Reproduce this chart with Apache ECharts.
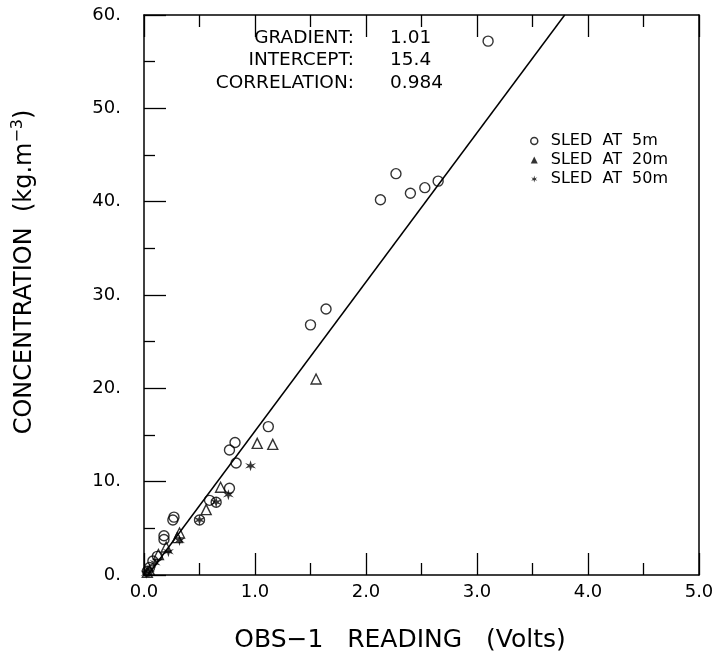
<!DOCTYPE html>
<html><head><meta charset="utf-8">
<script src="https://cdn.jsdelivr.net/npm/echarts@6/dist/echarts.min.js"></script>
<style>html,body{margin:0;padding:0;background:#fff}#c{width:718px;height:660px}</style>
</head><body><div id="c"></div>
<script>
// ---- data ----
const xTicks = [0, 1, 2, 3, 4, 5];
const yTicks = [0, 10, 20, 30, 40, 50, 60];
const sled5x = [3.10, 2.65, 2.53, 2.40, 2.27, 2.13, 1.64, 1.50, 1.12, 0.82, 0.77, 0.83, 0.77, 0.65, 0.59, 0.50, 0.27, 0.26, 0.18, 0.18, 0.12, 0.08, 0.05, 0.03];
const sled5y = [57.2, 42.2, 41.5, 40.9, 43.0, 40.2, 28.5, 26.8, 15.9, 14.2, 13.4, 12.0, 9.3, 7.8, 8.0, 5.9, 6.2, 5.9, 4.2, 3.8, 2.0, 1.5, 0.8, 0.4];
const sled20x = [1.55, 1.02, 1.16, 0.69, 0.56, 0.32, 0.30, 0.20, 0.13, 0.05, 0.03];
const sled20y = [21.0, 14.1, 14.0, 9.4, 7.0, 4.5, 4.0, 3.0, 2.2, 0.5, 0.3];
const sled50x = [0.96, 0.76, 0.65, 0.50, 0.32, 0.22, 0.10, 0.05, 0.02];
const sled50y = [11.7, 8.6, 7.8, 5.9, 3.7, 2.5, 1.3, 0.6, 0.2];
const fitX = [0.035, 3.79];
const fitY = [0.0, 60.0];
const statLabels = ['GRADIENT:', 'INTERCEPT:', 'CORRELATION:'];
const statValues = ['1.01', '15.4', '0.984'];
const seriesNames = ['SLED  AT  5m', 'SLED  AT  20m', 'SLED  AT  50m'];
const xTitle = 'OBS\u22121   READING   (Volts)';
const yTitle = 'CONCENTRATION  (kg.m{sup|\u22123})';

const zip = (a, b) => a.map((v, i) => [v, b[i]]);
const FONT = 'DejaVu Sans';
const star = 'path://M10 0 L12 7.5 L18.66 5 L14 10 L18.66 15 L12 12.5 L10 20 L8 12.5 L1.34 15 L6 10 L1.34 5 L8 7.5 Z';

const chart = echarts.init(document.getElementById('c'), null, {renderer: 'canvas'});
const lineSt = {color: '#000', width: 1.5};
const tickSt = {color: '#000', width: 1.3};
function axisBase(extra) {
  return Object.assign({
    type: 'value', min: 0,
    axisLine: {show: true, onZero: false, lineStyle: lineSt},
    splitLine: {show: false}
  }, extra);
}
chart.setOption({
  animation: false,
  backgroundColor: '#fff',
  grid: {left: 144, right: 19, top: 15, bottom: 85, containLabel: false},
  xAxis: [
    axisBase({
      max: 5, interval: 1, position: 'bottom',
      axisTick: {show: true, inside: true, length: 22, lineStyle: tickSt},
      minorTick: {show: true, splitNumber: 2, length: 12, lineStyle: tickSt},
      axisLabel: {color: '#000', fontFamily: FONT, fontSize: 18, margin: 8, formatter: v => v.toFixed(1)}
    }),
    axisBase({
      max: 5, interval: 1, position: 'top',
      axisTick: {show: true, inside: true, length: 22, lineStyle: tickSt},
      minorTick: {show: true, splitNumber: 2, length: 12, lineStyle: tickSt},
      axisLabel: {show: false}
    })
  ],
  yAxis: [
    axisBase({
      max: 60, interval: 10, position: 'left',
      axisTick: {show: true, inside: true, length: 22, lineStyle: tickSt},
      minorTick: {show: true, splitNumber: 2, length: 11, lineStyle: tickSt},
      axisLabel: {color: '#000', fontFamily: FONT, fontSize: 18, margin: 23, formatter: v => v + '.'}
    }),
    axisBase({
      max: 60, interval: 10, position: 'right',
      axisTick: {show: false}, axisLabel: {show: false}
    })
  ],
  legend: {
    orient: 'vertical', left: 525, top: 128, itemGap: 3, itemWidth: 7, itemHeight: 7,
    textStyle: {color: '#000', fontFamily: FONT, fontSize: 16, padding: [0, 0, 0, 8]},
    data: [
      {name: seriesNames[0], icon: 'circle', itemStyle: {color: '#fff', borderColor: '#000', borderWidth: 1.5}},
      {name: seriesNames[1], icon: 'triangle', itemStyle: {color: '#000', borderColor: '#000', borderWidth: 0}},
      {name: seriesNames[2], icon: star, itemStyle: {color: '#000', borderWidth: 0}}
    ]
  },
  graphic: statLabels.map((t, i) => ({
    type: 'text', x: 354, y: 38 + i * 22.5,
    style: {text: t, fill: '#000', font: '18.5px ' + FONT, align: 'right', verticalAlign: 'middle'}
  })).concat(statValues.map((t, i) => ({
    type: 'text', x: 390, y: 38 + i * 22.5,
    style: {text: t, fill: '#000', font: '18.5px ' + FONT, align: 'left', verticalAlign: 'middle'}
  }))).concat([
    {type: 'text', x: 400, y: 640,
     style: {text: xTitle, fill: '#000', font: '25px ' + FONT, align: 'center', verticalAlign: 'middle'}},
    {type: 'text', x: 25, y: 272, rotation: Math.PI / 2,
     style: {text: yTitle, fill: '#000', font: '24px ' + FONT, align: 'center', verticalAlign: 'middle',
       rich: {sup: {fill: '#000', font: '16px ' + FONT, padding: [0, 0, 14, 0]}}}}
  ]),
  series: [
    {type: 'line', data: zip(fitX, fitY), symbol: 'none', silent: true, clip: true,
     lineStyle: {color: '#000', width: 1.5}},
    {name: seriesNames[0], type: 'scatter', data: zip(sled5x, sled5y), symbol: 'circle', symbolSize: 10,
     itemStyle: {color: 'rgba(255,255,255,0)', borderColor: '#000', borderWidth: 1.4}},
    {name: seriesNames[1], type: 'scatter', data: zip(sled20x, sled20y), symbol: 'triangle', symbolSize: 10,
     itemStyle: {color: 'rgba(255,255,255,0)', borderColor: '#000', borderWidth: 1.4}},
    {name: seriesNames[2], type: 'scatter', data: zip(sled50x, sled50y), symbol: star, symbolSize: 11,
     itemStyle: {color: '#000'}}
  ]
});
</script></body></html>
